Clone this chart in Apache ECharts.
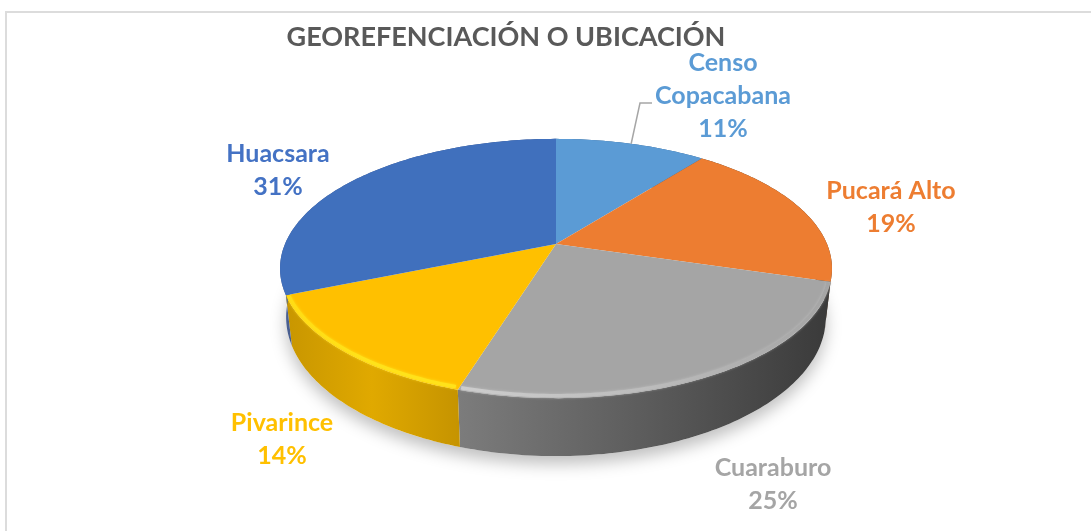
<!DOCTYPE html>
<html>
<head>
<meta charset="utf-8">
<style>
    html, body { margin: 0; padding: 0; background: #fff; }
    #chrt_ubicacion { width: 1091px; height: 531px; }
</style>
<script src="https://cdn.jsdelivr.net/npm/echarts@6/dist/echarts.min.js"></script>
</head>
<body>
<div id="chrt_ubicacion"></div>
<script>
const titleText = 'GEOREFENCIACIÓN O UBICACIÓN'
const categories = [ 'Censo\nCopacabana', 'Pucará Alto', 'Cuaraburo', 'Pivarince', 'Huacsara' ]
// the labels are rounded, these are read from the slice edges
const values = [ 10.6, 19.0, 25.2, 14.0, 31.2 ]

const topColors = [ '#5b9bd5', '#ed7d31', '#a5a5a5', '#ffc000', '#4070bd' ]
const textColors = [ '#5b9bd5', '#ed7d31', '#a5a5a5', '#ffc000', '#4472c4' ]
const rimStops = [ null, null, [ '#cdcdcd', '#bcbcbc', '#a5a5a5' ], [ '#ffdc14', '#ffe21a', '#ffe21a' ], null ]
const sideStops = [
    [ '#2f5f8f', '#2f5f8f' ],
    [ '#4a3a2c', '#5a3c24' ],
    [ '#7c7c7c', '#5c5c5c', '#3a3a3a' ],
    [ '#c89600', '#e0a900', '#c69400' ],
    [ '#4a5f90', '#2c4a86' ]
]
const labelCenters = [ [ 723, 96 ], [ 891, 207 ], [ 773, 484 ], [ 282, 439 ], [ 278, 170 ] ]

// 3D pie projection
const pie = { cx: 556, cy: 244, rx: 271, ry: 125, k: 0.189, depth: 47, shrink: 0.978 }
const total = values.reduce((a, b) => a + b, 0)

function project(deg, lower, inset = 0) {
    const t = deg * Math.PI / 180
    const u = Math.sin(t), v = -Math.cos(t)
    const w = 1 / (1 - pie.k * v)
    if (lower) return [ pie.cx + pie.rx * u * w * pie.shrink, pie.cy + pie.ry * v * w + pie.depth * w ]
    return [ pie.cx + (pie.rx - inset) * u * w, pie.cy + (pie.ry - inset) * v * w ]
}
function sliceAngles(i) {
    let sum = 0
    for (let j = 0; j < i; j++) sum += values[j]
    return [ sum / total * 360, (sum + values[i]) / total * 360 ]
}
function rim(a0, a1, lower, inset) {
    const pts = []
    for (let a = a0; a < a1; a += 1) pts.push(project(a, lower, inset))
    pts.push(project(a1, lower, inset))
    return pts
}
function gradientAcross(pts, colors) {
    const xs = pts.map(p => p[0])
    const stops = colors.map((color, n) => ({ offset: n / (colors.length - 1), color }))
    return new echarts.graphic.LinearGradient(Math.min(...xs), 0, Math.max(...xs), 0, stops, true)
}

function renderShadow(params) {
    if (params.dataIndex !== 0) return { type: 'group', children: [ ] }
    return {
        type: 'polygon',
        shape: { points: rim(0, 360, true) },
        style: { fill: '#fff', shadowBlur: 16, shadowColor: 'rgba(0,0,0,0.25)', shadowOffsetY: 8 }
    }
}
function renderSide(params) {
    const i = params.dataIndex
    const [ a0, a1 ] = sliceAngles(i)
    const top = rim(a0, a1, false), low = rim(a0, a1, true).reverse()
    return {
        type: 'polygon',
        shape: { points: top.concat(low) },
        style: { fill: gradientAcross(top, sideStops[i]) }
    }
}
function renderTop(params) {
    const i = params.dataIndex
    const [ a0, a1 ] = sliceAngles(i)
    const children = [ {
        type: 'polygon',
        shape: { points: [ [ pie.cx, pie.cy ] ].concat(rim(a0, a1, false)) },
        style: { fill: topColors[i] }
    } ]
    if (rimStops[i]) {
        const pts = rim(a0 + 0.5, a1 - 0.5, false, 2)
        children.push({
            type: 'polyline',
            shape: { points: pts },
            style: {
                stroke: gradientAcross(pts, rimStops[i]),
                lineWidth: 3.5, fill: null, shadowBlur: 3, shadowColor: rimStops[i][1]
            }
        })
    }
    return { type: 'group', children }
}
function renderLabel(params) {
    const i = params.dataIndex
    const c = labelCenters[i]
    const children = [ {
        type: 'text',
        style: {
            text: categories[i] + '\n' + Math.round(values[i]) + '%',
            x: c[0], y: c[1], align: 'center', verticalAlign: 'middle',
            font: 'bold 25px Lato', lineHeight: 33, fill: textColors[i]
        }
    } ]
    if (i === 0) {
        const [ a0, a1 ] = sliceAngles(0)
        children.push({
            type: 'polyline',
            shape: { points: [ project((a0 + a1) / 2, false), [ 640, 103 ], [ 652, 103 ] ] },
            style: { stroke: '#a6a6a6', lineWidth: 1.5, fill: null }
        })
    }
    return { type: 'group', children }
}

const seriesData = categories.map((name, i) => ({ name, value: values[i] }))
const chart = echarts.init(document.getElementById('chrt_ubicacion'), null, { renderer: 'canvas' })
chart.setOption({
    animation: false,
    backgroundColor: '#fff',
    title: {
        text: titleText, left: 501, top: 19, textAlign: 'center',
        textStyle: { color: '#595959', fontFamily: 'Lato', fontWeight: 'bold', fontSize: 27 }
    },
    graphic: [ {
        type: 'rect', silent: true, z: -1,
        shape: { x: 6, y: 12, width: 1200, height: 700 },
        style: { fill: 'none', stroke: '#dcdcdc', lineWidth: 2 }
    } ],
    series: [
        { type: 'custom', coordinateSystem: 'none', silent: true, z: 1, data: seriesData, renderItem: renderShadow },
        { type: 'custom', coordinateSystem: 'none', silent: true, z: 2, data: seriesData, renderItem: renderSide },
        { type: 'custom', coordinateSystem: 'none', silent: true, z: 3, data: seriesData, renderItem: renderTop },
        { type: 'custom', coordinateSystem: 'none', silent: true, z: 4, data: seriesData, renderItem: renderLabel }
    ]
})
</script>
</body>
</html>
